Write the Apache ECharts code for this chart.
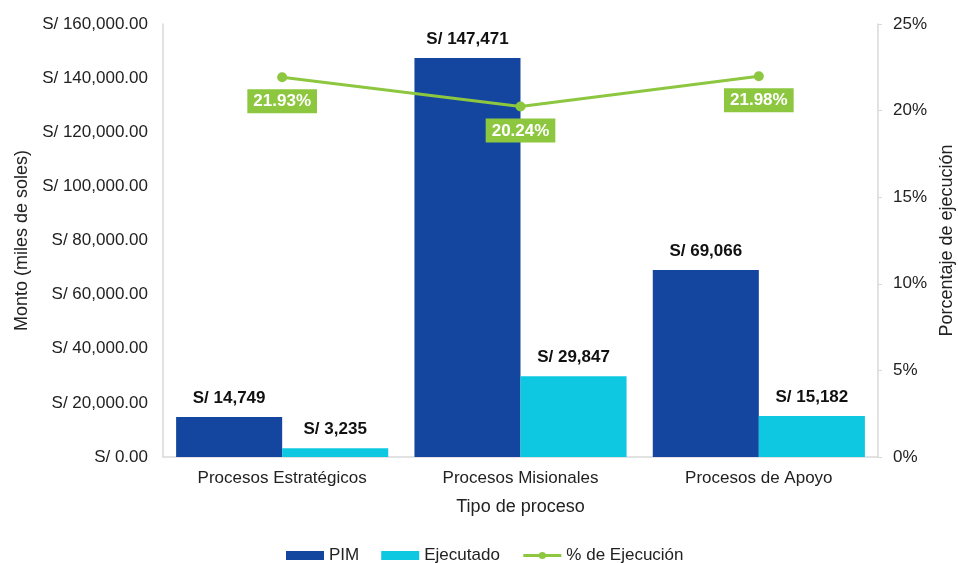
<!DOCTYPE html>
<html><head><meta charset="utf-8">
<script src="https://cdn.jsdelivr.net/npm/echarts@6/dist/echarts.min.js"></script>
<style>html,body{margin:0;padding:0;background:#fff}#c{width:958px;height:563px}</style>
</head><body><div id="c"></div>
<script>
const categories = ['Procesos Estratégicos', 'Procesos Misionales', 'Procesos de Apoyo'];
const pim = [14749, 147471, 69066];
const ejecutado = [3235, 29847, 15182];
const pctEjecucion = [21.93, 20.24, 21.98];

const F = 'Liberation Sans, Arial, sans-serif';
const fmtSoles = v => 'S/ ' + v.toLocaleString('en-US');
const chart = echarts.init(document.getElementById('c'));
chart.setOption({
  animation: false,
  textStyle: { fontFamily: F },
  grid: { left: 163, right: 80, top: 24, bottom: 106, containLabel: false, outerBoundsMode: 'none' },
  legend: {
    top: 542, left: 281, itemWidth: 38, itemHeight: 9, itemGap: 22,
    textStyle: { fontSize: 17, color: '#222', fontFamily: F },
    lineStyle: { width: 3 },
    data: [{ name: 'PIM', icon: 'rect' }, { name: 'Ejecutado', icon: 'rect' }, { name: '% de Ejecución' }]
  },
  xAxis: {
    type: 'category', data: categories,
    name: 'Tipo de proceso', nameLocation: 'middle', nameGap: 41,
    nameTextStyle: { fontSize: 18, color: '#222', fontFamily: F },
    axisLine: { lineStyle: { color: '#d9d9d9', width: 1.5 } },
    axisTick: { show: false },
    axisLabel: { fontSize: 17, color: '#222', margin: 13, fontFamily: F }
  },
  yAxis: [{
    type: 'value', min: 0, max: 160000, interval: 20000,
    name: 'Monto (miles de soles)', nameLocation: 'middle', nameGap: 120, nameRotate: 90,
    nameTextStyle: { fontSize: 18, color: '#222', fontFamily: F },
    axisLine: { show: true, lineStyle: { color: '#d9d9d9', width: 1.5 } },
    axisTick: { show: false },
    splitLine: { show: false },
    axisLabel: { fontSize: 17, color: '#222', margin: 15, fontFamily: F,
      formatter: v => 'S/ ' + v.toLocaleString('en-US', { minimumFractionDigits: 2, maximumFractionDigits: 2 }) }
  }, {
    type: 'value', min: 0, max: 25, interval: 5, position: 'right',
    name: 'Porcentaje de ejecución', nameLocation: 'middle', nameGap: 59, nameRotate: 90,
    nameTextStyle: { fontSize: 18, color: '#222', fontFamily: F },
    axisLine: { show: true, lineStyle: { color: '#d9d9d9', width: 1.5 } },
    axisTick: { show: true, length: 4, lineStyle: { color: '#d9d9d9' } },
    splitLine: { show: false },
    axisLabel: { fontSize: 17, color: '#222', margin: 15, fontFamily: F, formatter: '{value}%' }
  }],
  series: [{
    name: 'PIM', type: 'bar', data: pim, barGap: '0%', barCategoryGap: '11%',
    itemStyle: { color: '#1446A0' },
    label: { show: true, position: 'top', distance: 10, fontSize: 17, fontWeight: 'bold', color: '#111', fontFamily: F,
      formatter: p => fmtSoles(p.value) }
  }, {
    name: 'Ejecutado', type: 'bar', data: ejecutado,
    itemStyle: { color: '#0DC8E0' },
    label: { show: true, position: 'top', distance: 10, fontSize: 17, fontWeight: 'bold', color: '#111', fontFamily: F,
      formatter: p => fmtSoles(p.value) }
  }, {
    name: '% de Ejecución', type: 'line', yAxisIndex: 1, data: pctEjecucion,
    symbol: 'circle', symbolSize: 10,
    lineStyle: { color: '#8DC73F', width: 3 },
    itemStyle: { color: '#8DC73F' },
    label: { show: true, position: 'bottom', distance: 7, fontSize: 17, fontWeight: 'bold', color: '#fff',
      backgroundColor: '#8DC73F', padding: [4, 6, 3, 6], fontFamily: F,
      formatter: p => p.value.toFixed(2) + '%' }
  }]
});
</script></body></html>
